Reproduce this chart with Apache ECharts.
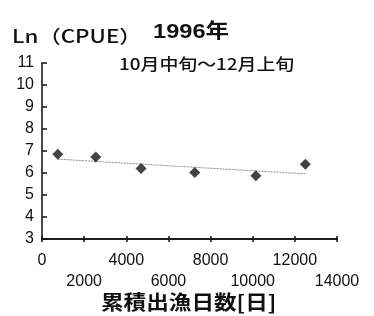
<!DOCTYPE html>
<html>
<head>
<meta charset="UTF-8">
<title>1996年</title>
<script src="https://cdn.jsdelivr.net/npm/echarts@6/dist/echarts.min.js"></script>
<style>
  html, body { margin: 0; padding: 0; background: #fff; }
  #main { width: 374px; height: 316px; }
</style>
</head>
<body>
<div id="main"></div>
<script>
// 累積出漁日数 と Ln(CPUE)
var days = [750, 2550, 4700, 7250, 10150, 12500];
var lnCpue = [6.85, 6.73, 6.2, 6.02, 5.87, 6.4];
// 回帰直線 (両端の値を図から読む)
var trendDays = [750, 12500];
var trendVals = [6.63, 5.96];
var xTicks = [0, 2000, 4000, 6000, 8000, 10000, 12000, 14000];
var yTicks = [3, 4, 5, 6, 7, 8, 9, 10, 11];

var font = '"Liberation Sans", Arial, "Noto Sans CJK JP", sans-serif';
var cjk = '"Noto Sans CJK JP", sans-serif';

var pts = days.map(function (d, i) { return [d, lnCpue[i]]; });
var trend = trendDays.map(function (d, i) { return [d, trendVals[i]]; });

// 元図は横に少し伸びているので scaleX で合わせる
function label(txt, x, y, f, sx) {
    return {
        type: 'text', x: x, y: y, scaleX: sx,
        style: { text: txt, font: f, fill: '#111', textVerticalAlign: 'top' }
    };
}

// x軸の目盛りラベルは上下2段に交互に並ぶ
function xAxisRow(odd, margin, tickInside) {
    return {
        type: 'value',
        position: 'bottom',
        min: xTicks[0],
        max: xTicks[xTicks.length - 1],
        interval: 2000,
        splitLine: { show: false },
        axisLine: { show: true, lineStyle: { color: '#111', width: 1.5 } },
        axisTick: { show: true, inside: tickInside, length: 3, lineStyle: { color: '#111', width: 1.5 } },
        axisLabel: {
            margin: margin,
            showMinLabel: true,
            showMaxLabel: true,
            fontFamily: font, fontSize: 16, color: '#111',
            formatter: function (v) {
                var i = xTicks.indexOf(v);
                return (i % 2 === 1) === odd ? '' + v : '';
            }
        }
    };
}

var chart = echarts.init(document.getElementById('main'));
chart.setOption({
    animation: false,
    grid: { left: 42, right: 37, top: 63, bottom: 77 },
    graphic: [
        label('Ln（CPUE）', 12, 27, '500 18px ' + cjk, 1.24),
        label('1996年', 153, 22, 'bold 20px ' + font, 1.18),
        label('10月中旬～12月上旬', 119, 56, '500 16px ' + cjk, 1.18),
        label('累積出漁日数[日]', 101, 292, 'bold 20px ' + cjk, 1.13)
    ],
    xAxis: [
        xAxisRow(false, 14, false),
        xAxisRow(true, 35, true)
    ],
    yAxis: {
        type: 'value',
        min: yTicks[0],
        max: yTicks[yTicks.length - 1],
        interval: 1,
        splitLine: { show: false },
        axisLine: { show: true, lineStyle: { color: '#111', width: 1.5 } },
        axisTick: { show: true, inside: true, length: 5, lineStyle: { color: '#111', width: 1.5 } },
        axisLabel: { margin: 8, fontFamily: font, fontSize: 16, color: '#111' }
    },
    series: [
        {
            type: 'line',
            data: trend,
            symbol: 'none',
            lineStyle: { color: '#8a8a8a', width: 1, type: [2, 1] },
            z: 1
        },
        {
            type: 'scatter',
            data: pts,
            symbol: 'diamond',
            symbolSize: [11, 11],
            itemStyle: { color: '#141414' },
            z: 2
        }
    ]
});
</script>
</body>
</html>
